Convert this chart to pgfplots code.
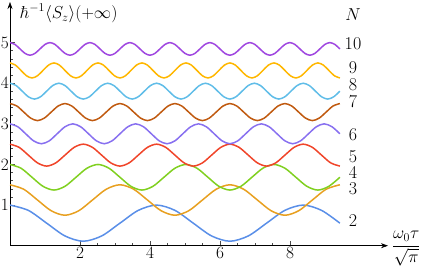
\documentclass[border=0pt]{standalone}
\usepackage{amsmath}
\usepackage{pgfplots}
\pgfplotsset{compat=1.18}
\usetikzlibrary{arrows.meta}
\definecolor{cN2}{HTML}{5A8FE8}
\definecolor{cN3}{HTML}{E8A020}
\definecolor{cN4}{HTML}{80D020}
\definecolor{cN5}{HTML}{F0452A}
\definecolor{cN6}{HTML}{8870F0}
\definecolor{cN7}{HTML}{C05A10}
\definecolor{cN8}{HTML}{60BDE8}
\definecolor{cN9}{HTML}{FFB700}
\definecolor{cN10}{HTML}{A048E0}
\newcommand{\bigf}{\fontsize{18}{20}\selectfont}
\begin{document}
\begin{tikzpicture}
\begin{axis}[
  anchor=south west, at={(0,0)},
  scale only axis, width=378pt, height=243.7pt,
  xmin=0, xmax=10.8, ymin=0, ymax=6,
  axis lines=left,
  axis line style={line width=0.6pt, -{Stealth[length=7pt,width=5pt]}},
  xtick={2,4,6,8}, ytick={1,2,3,4,5},
  minor x tick num=3, minor y tick num=4,
  tick align=inside,
  major tick length=5pt, minor tick length=3pt,
  tick style={line width=0.5pt, black!70},
  every tick label/.append style={font=\bigf, inner sep=1pt},
  clip=false,
  every axis plot/.append style={smooth, line width=1.5pt, no marks},
]
\addplot[cN2] coordinates {(0,1.0)(0.5236,0.870)(1.0472,0.555)(1.5708,0.240)(2.0944,0.110)(2.6180,0.240)(3.1416,0.555)(3.6652,0.870)(4.1888,1.0)(4.7124,0.870)(5.2360,0.555)(5.7596,0.240)(6.2832,0.110)(6.8068,0.240)(7.3304,0.555)(7.8540,0.870)(8.3776,1.0)(8.9012,0.870)(9.4248,0.555)};
\addplot[cN3] coordinates {(0,1.5)(0.3927,1.390)(0.7854,1.125)(1.1781,0.860)(1.5708,0.75)(1.9635,0.860)(2.3562,1.125)(2.7489,1.390)(3.1416,1.5)(3.5343,1.390)(3.9270,1.125)(4.3197,0.860)(4.7124,0.75)(5.1051,0.860)(5.4978,1.125)(5.8905,1.390)(6.2832,1.5)(6.6759,1.390)(7.0686,1.125)(7.4613,0.860)(7.8540,0.75)(8.2467,0.860)(8.6394,1.125)(9.0321,1.390)(9.4248,1.5)};
\addplot[cN4] coordinates {(0,2.0)(0.3142,1.908)(0.6283,1.685)(0.9425,1.462)(1.2566,1.37)(1.5708,1.462)(1.8850,1.685)(2.1991,1.908)(2.5133,2.0)(2.8274,1.908)(3.1416,1.685)(3.4558,1.462)(3.7699,1.37)(4.0841,1.462)(4.3982,1.685)(4.7124,1.908)(5.0265,2.0)(5.3407,1.908)(5.6549,1.685)(5.9690,1.462)(6.2832,1.37)(6.5973,1.462)(6.9115,1.685)(7.2257,1.908)(7.5398,2.0)(7.8540,1.908)(8.1681,1.685)(8.4823,1.462)(8.7965,1.37)(9.1106,1.462)(9.4248,1.685)};
\addplot[cN5] coordinates {(0,2.5)(0.2618,2.421)(0.5236,2.23)(0.7854,2.039)(1.0472,1.96)(1.3090,2.039)(1.5708,2.23)(1.8326,2.421)(2.0944,2.5)(2.3562,2.421)(2.6180,2.23)(2.8798,2.039)(3.1416,1.96)(3.4034,2.039)(3.6652,2.23)(3.9270,2.421)(4.1888,2.5)(4.4506,2.421)(4.7124,2.23)(4.9742,2.039)(5.2360,1.96)(5.4978,2.039)(5.7596,2.23)(6.0214,2.421)(6.2832,2.5)(6.5450,2.421)(6.8068,2.23)(7.0686,2.039)(7.3304,1.96)(7.5922,2.039)(7.8540,2.23)(8.1158,2.421)(8.3776,2.5)(8.6394,2.421)(8.9012,2.23)(9.1630,2.039)(9.4248,1.96)};
\addplot[cN6] coordinates {(0,3.0)(0.2244,2.928)(0.4488,2.755)(0.6732,2.582)(0.8976,2.51)(1.1220,2.582)(1.3464,2.755)(1.5708,2.928)(1.7952,3.0)(2.0196,2.928)(2.2440,2.755)(2.4684,2.582)(2.6928,2.51)(2.9172,2.582)(3.1416,2.755)(3.3660,2.928)(3.5904,3.0)(3.8148,2.928)(4.0392,2.755)(4.2636,2.582)(4.4880,2.51)(4.7124,2.582)(4.9368,2.755)(5.1612,2.928)(5.3856,3.0)(5.6100,2.928)(5.8344,2.755)(6.0588,2.582)(6.2832,2.51)(6.5076,2.582)(6.7320,2.755)(6.9564,2.928)(7.1808,3.0)(7.4052,2.928)(7.6296,2.755)(7.8540,2.582)(8.0784,2.51)(8.3028,2.582)(8.5272,2.755)(8.7516,2.928)(8.9760,3.0)(9.2004,2.928)(9.4248,2.755)};
\addplot[cN7] coordinates {(0,3.5)(0.1963,3.439)(0.3927,3.29)(0.5890,3.142)(0.7854,3.08)(0.9817,3.142)(1.1781,3.29)(1.3744,3.439)(1.5708,3.5)(1.7671,3.439)(1.9635,3.29)(2.1598,3.142)(2.3562,3.08)(2.5525,3.142)(2.7489,3.29)(2.9452,3.439)(3.1416,3.5)(3.3379,3.439)(3.5343,3.29)(3.7306,3.142)(3.9270,3.08)(4.1233,3.142)(4.3197,3.29)(4.5160,3.439)(4.7124,3.5)(4.9087,3.439)(5.1051,3.29)(5.3014,3.142)(5.4978,3.08)(5.6941,3.142)(5.8905,3.29)(6.0868,3.439)(6.2832,3.5)(6.4795,3.439)(6.6759,3.29)(6.8722,3.142)(7.0686,3.08)(7.2649,3.142)(7.4613,3.29)(7.6576,3.439)(7.8540,3.5)(8.0503,3.439)(8.2467,3.29)(8.4430,3.142)(8.6394,3.08)(8.8357,3.142)(9.0321,3.29)(9.2284,3.439)(9.4248,3.5)};
\addplot[cN8] coordinates {(0,4.0)(0.1745,3.943)(0.3491,3.805)(0.5236,3.667)(0.6981,3.61)(0.8727,3.667)(1.0472,3.805)(1.2217,3.943)(1.3963,4.0)(1.5708,3.943)(1.7453,3.805)(1.9199,3.667)(2.0944,3.61)(2.2689,3.667)(2.4435,3.805)(2.6180,3.943)(2.7925,4.0)(2.9671,3.943)(3.1416,3.805)(3.3161,3.667)(3.4907,3.61)(3.6652,3.667)(3.8397,3.805)(4.0143,3.943)(4.1888,4.0)(4.3633,3.943)(4.5379,3.805)(4.7124,3.667)(4.8869,3.61)(5.0615,3.667)(5.2360,3.805)(5.4105,3.943)(5.5851,4.0)(5.7596,3.943)(5.9341,3.805)(6.1087,3.667)(6.2832,3.61)(6.4577,3.667)(6.6323,3.805)(6.8068,3.943)(6.9813,4.0)(7.1558,3.943)(7.3304,3.805)(7.5049,3.667)(7.6794,3.61)(7.8540,3.667)(8.0285,3.805)(8.2030,3.943)(8.3776,4.0)(8.5521,3.943)(8.7266,3.805)(8.9012,3.667)(9.0757,3.61)(9.2502,3.667)(9.4248,3.805)};
\addplot[cN9] coordinates {(0,4.5)(0.1571,4.446)(0.3142,4.315)(0.4712,4.184)(0.6283,4.13)(0.7854,4.184)(0.9425,4.315)(1.0996,4.446)(1.2566,4.5)(1.4137,4.446)(1.5708,4.315)(1.7279,4.184)(1.8850,4.13)(2.0420,4.184)(2.1991,4.315)(2.3562,4.446)(2.5133,4.5)(2.6704,4.446)(2.8274,4.315)(2.9845,4.184)(3.1416,4.13)(3.2987,4.184)(3.4558,4.315)(3.6128,4.446)(3.7699,4.5)(3.9270,4.446)(4.0841,4.315)(4.2412,4.184)(4.3982,4.13)(4.5553,4.184)(4.7124,4.315)(4.8695,4.446)(5.0265,4.5)(5.1836,4.446)(5.3407,4.315)(5.4978,4.184)(5.6549,4.13)(5.8119,4.184)(5.9690,4.315)(6.1261,4.446)(6.2832,4.5)(6.4403,4.446)(6.5973,4.315)(6.7544,4.184)(6.9115,4.13)(7.0686,4.184)(7.2257,4.315)(7.3827,4.446)(7.5398,4.5)(7.6969,4.446)(7.8540,4.315)(8.0111,4.184)(8.1681,4.13)(8.3252,4.184)(8.4823,4.315)(8.6394,4.446)(8.7965,4.5)(8.9535,4.446)(9.1106,4.315)(9.2677,4.184)(9.4248,4.13)};
\addplot[cN10] coordinates {(0,5.0)(0.1428,4.955)(0.2856,4.845)(0.4284,4.735)(0.5712,4.69)(0.7140,4.735)(0.8568,4.845)(0.9996,4.955)(1.1424,5.0)(1.2852,4.955)(1.4280,4.845)(1.5708,4.735)(1.7136,4.69)(1.8564,4.735)(1.9992,4.845)(2.1420,4.955)(2.2848,5.0)(2.4276,4.955)(2.5704,4.845)(2.7132,4.735)(2.8560,4.69)(2.9988,4.735)(3.1416,4.845)(3.2844,4.955)(3.4272,5.0)(3.5700,4.955)(3.7128,4.845)(3.8556,4.735)(3.9984,4.69)(4.1412,4.735)(4.2840,4.845)(4.4268,4.955)(4.5696,5.0)(4.7124,4.955)(4.8552,4.845)(4.9980,4.735)(5.1408,4.69)(5.2836,4.735)(5.4264,4.845)(5.5692,4.955)(5.7120,5.0)(5.8548,4.955)(5.9976,4.845)(6.1404,4.735)(6.2832,4.69)(6.4260,4.735)(6.5688,4.845)(6.7116,4.955)(6.8544,5.0)(6.9972,4.955)(7.1400,4.845)(7.2828,4.735)(7.4256,4.69)(7.5684,4.735)(7.7112,4.845)(7.8540,4.955)(7.9968,5.0)(8.1396,4.955)(8.2824,4.845)(8.4252,4.735)(8.5680,4.69)(8.7108,4.735)(8.8536,4.845)(8.9964,4.955)(9.1392,5.0)(9.2820,4.955)(9.4248,4.845)};
\tikzset{nlab/.style={font=\bigf, inner sep=0pt}}
\node[nlab] at (axis cs:9.8,5.68) {$N$};
\node[nlab] at (axis cs:9.8,4.98) {10};
\node[nlab] at (axis cs:9.8,4.39) {9};
\node[nlab] at (axis cs:9.8,3.96) {8};
\node[nlab] at (axis cs:9.8,3.56) {7};
\node[nlab] at (axis cs:9.8,2.74) {6};
\node[nlab] at (axis cs:9.8,2.18) {5};
\node[nlab] at (axis cs:9.8,1.80) {4};
\node[nlab] at (axis cs:9.8,1.41) {3};
\node[nlab] at (axis cs:9.8,0.63) {2};
\node[font=\bigf, anchor=west, inner sep=0pt] at (axis cs:0.29,5.72) {$\hbar^{-1}\langle S_z\rangle(+\infty)$};
\node[font=\bigf, inner sep=0pt] at (axis cs:11.32,-0.08) {$\dfrac{\omega_0\tau}{\sqrt{\pi}}$};
\end{axis}
\pgfresetboundingbox
\path (-10pt,-21.3pt) rectangle (412pt,245.7pt);
\end{tikzpicture}
\end{document}
